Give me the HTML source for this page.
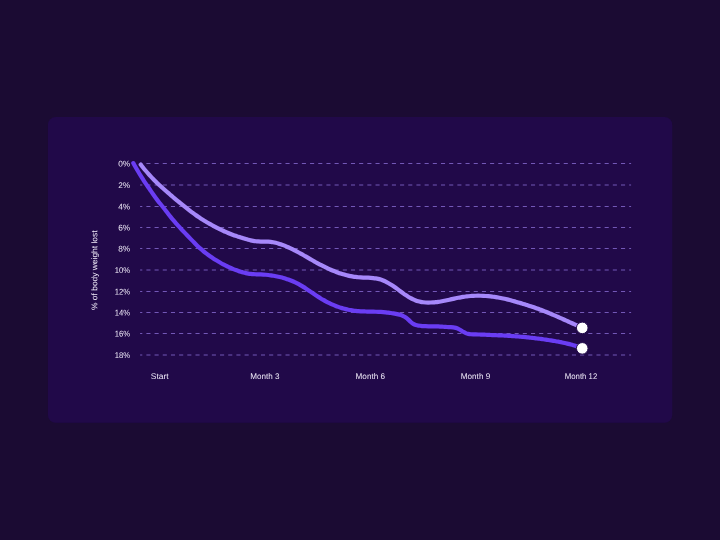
<!DOCTYPE html>
<html lang="en"><head><meta charset="utf-8"><title>Chart</title>
<style>
html,body{margin:0;padding:0;background:#1b0b33;}
body{width:720px;height:540px;overflow:hidden;position:relative;font-family:"Liberation Sans",sans-serif;}
svg{position:absolute;left:0;top:0;will-change:transform;}
text{font-family:"Liberation Sans",sans-serif;font-size:8.2px;fill:#f1ecfa;text-rendering:geometricPrecision;}
</style></head><body>
<svg width="720" height="540" viewBox="0 0 720 540">
<rect x="47.9" y="116.9" width="624.35" height="305.85" rx="7.8" ry="7.8" fill="#210949"/>
<g stroke="#866bd0" stroke-width="0.82" stroke-dasharray="4.09 4.093" stroke-dashoffset="1.89" fill="none">
<line x1="140.1" y1="163.50" x2="631.1" y2="163.50"/>
<line x1="140.1" y1="185.00" x2="631.1" y2="185.00"/>
<line x1="140.1" y1="206.50" x2="631.1" y2="206.50"/>
<line x1="140.1" y1="227.50" x2="631.1" y2="227.50"/>
<line x1="140.1" y1="248.50" x2="631.1" y2="248.50"/>
<line x1="140.1" y1="270.00" x2="631.1" y2="270.00"/>
<line x1="140.1" y1="291.50" x2="631.1" y2="291.50"/>
<line x1="140.1" y1="312.50" x2="631.1" y2="312.50"/>
<line x1="140.1" y1="333.50" x2="631.1" y2="333.50"/>
<line x1="140.1" y1="355.00" x2="631.1" y2="355.00"/>
</g>
<g>
<text x="130.2" y="166.60" text-anchor="end" textLength="12.0" lengthAdjust="spacingAndGlyphs" transform="rotate(0.03 130.2 166.60)">0%</text>
<text x="130.2" y="188.10" text-anchor="end" textLength="12.0" lengthAdjust="spacingAndGlyphs" transform="rotate(0.03 130.2 188.10)">2%</text>
<text x="130.2" y="209.60" text-anchor="end" textLength="12.0" lengthAdjust="spacingAndGlyphs" transform="rotate(0.03 130.2 209.60)">4%</text>
<text x="130.2" y="230.60" text-anchor="end" textLength="12.0" lengthAdjust="spacingAndGlyphs" transform="rotate(0.03 130.2 230.60)">6%</text>
<text x="130.2" y="251.60" text-anchor="end" textLength="12.0" lengthAdjust="spacingAndGlyphs" transform="rotate(0.03 130.2 251.60)">8%</text>
<text x="130.2" y="273.10" text-anchor="end" textLength="15.4" lengthAdjust="spacingAndGlyphs" transform="rotate(0.03 130.2 273.10)">10%</text>
<text x="130.2" y="294.60" text-anchor="end" textLength="15.4" lengthAdjust="spacingAndGlyphs" transform="rotate(0.03 130.2 294.60)">12%</text>
<text x="130.2" y="315.60" text-anchor="end" textLength="15.4" lengthAdjust="spacingAndGlyphs" transform="rotate(0.03 130.2 315.60)">14%</text>
<text x="130.2" y="336.60" text-anchor="end" textLength="15.4" lengthAdjust="spacingAndGlyphs" transform="rotate(0.03 130.2 336.60)">16%</text>
<text x="130.2" y="358.10" text-anchor="end" textLength="15.4" lengthAdjust="spacingAndGlyphs" transform="rotate(0.03 130.2 358.10)">18%</text>
</g>
<g>
<text x="159.7" y="378.9" text-anchor="middle" textLength="17.8" lengthAdjust="spacingAndGlyphs" transform="rotate(0.03 159.7 378.9)">Start</text>
<text x="264.8" y="378.9" text-anchor="middle" textLength="29.3" lengthAdjust="spacingAndGlyphs" transform="rotate(0.03 264.8 378.9)">Month 3</text>
<text x="370.3" y="378.9" text-anchor="middle" textLength="29.4" lengthAdjust="spacingAndGlyphs" transform="rotate(0.03 370.3 378.9)">Month 6</text>
<text x="475.5" y="378.9" text-anchor="middle" textLength="29.4" lengthAdjust="spacingAndGlyphs" transform="rotate(0.03 475.5 378.9)">Month 9</text>
<text x="581.0" y="378.9" text-anchor="middle" textLength="32.5" lengthAdjust="spacingAndGlyphs" transform="rotate(0.03 581.0 378.9)">Month 12</text>
</g>
<text transform="translate(97.3 310) rotate(-89.97)" textLength="79.6" lengthAdjust="spacingAndGlyphs">% of body weight lost</text>
<path d="M140.70 164.59C141.53 165.67 142.37 166.72 143.20 167.75C144.03 168.78 144.87 169.78 145.70 170.75C146.53 171.73 147.37 172.68 148.20 173.61C149.03 174.54 149.87 175.46 150.70 176.35C151.53 177.24 152.37 178.11 153.20 178.96C154.03 179.82 154.87 180.66 155.70 181.48C156.53 182.30 157.37 183.11 158.20 183.90C159.03 184.69 159.87 185.47 160.70 186.24C161.53 187.01 162.37 187.77 163.20 188.52C164.03 189.27 164.87 190.01 165.70 190.75C166.53 191.48 167.37 192.21 168.20 192.93C169.03 193.66 169.87 194.37 170.70 195.09C171.53 195.80 172.37 196.52 173.20 197.23C174.03 197.93 174.87 198.64 175.70 199.33C176.53 200.02 177.37 200.71 178.20 201.39C179.03 202.07 179.87 202.74 180.70 203.40C181.53 204.07 182.37 204.73 183.20 205.40C184.03 206.06 184.87 206.72 185.70 207.38C186.53 208.04 187.37 208.69 188.20 209.35C189.03 210.00 189.87 210.65 190.70 211.29C191.53 211.93 192.37 212.57 193.20 213.19C194.03 213.81 194.87 214.43 195.70 215.03C196.53 215.63 197.37 216.22 198.20 216.79C199.03 217.36 199.87 217.92 200.70 218.46C201.53 219.00 202.37 219.53 203.20 220.04C204.03 220.56 204.87 221.06 205.70 221.55C206.53 222.05 207.37 222.53 208.20 223.00C209.03 223.47 209.87 223.94 210.70 224.40C211.53 224.85 212.37 225.31 213.20 225.75C214.03 226.19 214.87 226.63 215.70 227.06C216.53 227.49 217.37 227.92 218.20 228.33C219.03 228.75 219.87 229.17 220.70 229.57C221.53 229.98 222.37 230.38 223.20 230.77C224.03 231.16 224.87 231.55 225.70 231.92C226.53 232.30 227.37 232.66 228.20 233.01C229.03 233.36 229.87 233.70 230.70 234.03C231.53 234.35 232.37 234.66 233.20 234.96C234.03 235.27 234.87 235.56 235.70 235.84C236.53 236.13 237.37 236.40 238.20 236.68C239.03 236.95 239.87 237.22 240.70 237.49C241.53 237.76 242.37 238.02 243.20 238.28C244.03 238.54 244.87 238.79 245.70 239.04C246.53 239.28 247.37 239.51 248.20 239.73C249.03 239.95 249.87 240.16 250.70 240.34C251.53 240.53 252.37 240.70 253.20 240.85C254.03 241.00 254.87 241.13 255.70 241.22C256.53 241.32 257.37 241.40 258.20 241.45C259.03 241.50 259.87 241.53 260.70 241.55C261.53 241.56 262.37 241.56 263.20 241.57C264.03 241.57 264.87 241.56 265.70 241.57C266.53 241.58 267.37 241.60 268.20 241.64C269.03 241.68 269.87 241.74 270.70 241.84C271.53 241.93 272.37 242.06 273.20 242.21C274.03 242.36 274.87 242.54 275.70 242.74C276.53 242.95 277.37 243.17 278.20 243.42C279.03 243.67 279.87 243.94 280.70 244.23C281.53 244.52 282.37 244.83 283.20 245.15C284.03 245.48 284.87 245.82 285.70 246.17C286.53 246.53 287.37 246.89 288.20 247.27C289.03 247.65 289.87 248.04 290.70 248.44C291.53 248.84 292.37 249.24 293.20 249.66C294.03 250.07 294.87 250.49 295.70 250.92C296.53 251.35 297.37 251.79 298.20 252.24C299.03 252.68 299.87 253.13 300.70 253.59C301.53 254.05 302.37 254.52 303.20 254.99C304.03 255.46 304.87 255.93 305.70 256.42C306.53 256.90 307.37 257.39 308.20 257.87C309.03 258.36 309.87 258.85 310.70 259.34C311.53 259.83 312.37 260.31 313.20 260.79C314.03 261.27 314.87 261.75 315.70 262.22C316.53 262.69 317.37 263.15 318.20 263.60C319.03 264.05 319.87 264.50 320.70 264.93C321.53 265.37 322.37 265.80 323.20 266.22C324.03 266.64 324.87 267.05 325.70 267.45C326.53 267.85 327.37 268.24 328.20 268.62C329.03 269.00 329.87 269.37 330.70 269.73C331.53 270.09 332.37 270.44 333.20 270.78C334.03 271.12 334.87 271.44 335.70 271.76C336.53 272.08 337.37 272.38 338.20 272.67C339.03 272.97 339.87 273.25 340.70 273.52C341.53 273.78 342.37 274.04 343.20 274.28C344.03 274.53 344.87 274.76 345.70 274.98C346.53 275.20 347.37 275.40 348.20 275.59C349.03 275.79 349.87 275.96 350.70 276.13C351.53 276.29 352.37 276.45 353.20 276.58C354.03 276.72 354.87 276.84 355.70 276.95C356.53 277.06 357.37 277.16 358.20 277.24C359.03 277.32 359.87 277.38 360.70 277.43C361.53 277.48 362.37 277.52 363.20 277.55C364.03 277.58 364.87 277.61 365.70 277.64C366.53 277.66 367.37 277.69 368.20 277.72C369.03 277.75 369.87 277.79 370.70 277.85C371.53 277.90 372.37 277.97 373.20 278.06C374.03 278.15 374.87 278.25 375.70 278.39C376.53 278.53 377.37 278.69 378.20 278.89C379.03 279.08 379.87 279.32 380.70 279.59C381.53 279.86 382.37 280.17 383.20 280.51C384.03 280.85 384.87 281.23 385.70 281.64C386.53 282.05 387.37 282.49 388.20 282.96C389.03 283.42 389.87 283.92 390.70 284.44C391.53 284.96 392.37 285.50 393.20 286.06C394.03 286.63 394.87 287.21 395.70 287.81C396.53 288.41 397.37 289.03 398.20 289.65C399.03 290.27 399.87 290.90 400.70 291.52C401.53 292.14 402.37 292.76 403.20 293.35C404.03 293.95 404.87 294.54 405.70 295.09C406.53 295.65 407.37 296.18 408.20 296.68C409.03 297.19 409.87 297.67 410.70 298.11C411.53 298.56 412.37 298.98 413.20 299.37C414.03 299.75 414.87 300.10 415.70 300.42C416.53 300.74 417.37 301.02 418.20 301.27C419.03 301.51 419.87 301.72 420.70 301.89C421.53 302.06 422.37 302.19 423.20 302.29C424.03 302.39 424.87 302.45 425.70 302.50C426.53 302.54 427.37 302.56 428.20 302.56C429.03 302.55 429.87 302.54 430.70 302.50C431.53 302.47 432.37 302.42 433.20 302.37C434.03 302.31 434.87 302.23 435.70 302.15C436.53 302.06 437.37 301.96 438.20 301.85C439.03 301.74 439.87 301.62 440.70 301.49C441.53 301.36 442.37 301.21 443.20 301.05C444.03 300.90 444.87 300.73 445.70 300.55C446.53 300.38 447.37 300.19 448.20 300.00C449.03 299.81 449.87 299.61 450.70 299.42C451.53 299.22 452.37 299.03 453.20 298.84C454.03 298.65 454.87 298.46 455.70 298.28C456.53 298.10 457.37 297.93 458.20 297.77C459.03 297.61 459.87 297.45 460.70 297.31C461.53 297.16 462.37 297.03 463.20 296.90C464.03 296.77 464.87 296.65 465.70 296.54C466.53 296.44 467.37 296.34 468.20 296.25C469.03 296.16 469.87 296.08 470.70 296.01C471.53 295.95 472.37 295.89 473.20 295.84C474.03 295.80 474.87 295.76 475.70 295.74C476.53 295.71 477.37 295.70 478.20 295.70C479.03 295.70 479.87 295.71 480.70 295.73C481.53 295.75 482.37 295.78 483.20 295.83C484.03 295.87 484.87 295.92 485.70 295.98C486.53 296.04 487.37 296.11 488.20 296.19C489.03 296.26 489.87 296.35 490.70 296.44C491.53 296.54 492.37 296.64 493.20 296.75C494.03 296.86 494.87 296.98 495.70 297.10C496.53 297.23 497.37 297.36 498.20 297.51C499.03 297.65 499.87 297.81 500.70 297.97C501.53 298.13 502.37 298.31 503.20 298.49C504.03 298.67 504.87 298.86 505.70 299.05C506.53 299.25 507.37 299.45 508.20 299.66C509.03 299.87 509.87 300.09 510.70 300.31C511.53 300.53 512.37 300.75 513.20 300.98C514.03 301.21 514.87 301.45 515.70 301.69C516.53 301.92 517.37 302.17 518.20 302.41C519.03 302.65 519.87 302.90 520.70 303.14C521.53 303.39 522.37 303.64 523.20 303.89C524.03 304.14 524.87 304.39 525.70 304.65C526.53 304.91 527.37 305.17 528.20 305.43C529.03 305.69 529.87 305.96 530.70 306.24C531.53 306.51 532.37 306.79 533.20 307.07C534.03 307.35 534.87 307.64 535.70 307.94C536.53 308.23 537.37 308.53 538.20 308.84C539.03 309.15 539.87 309.46 540.70 309.78C541.53 310.09 542.37 310.41 543.20 310.74C544.03 311.07 544.87 311.40 545.70 311.74C546.53 312.07 547.37 312.41 548.20 312.76C549.03 313.10 549.87 313.45 550.70 313.80C551.53 314.15 552.37 314.50 553.20 314.86C554.03 315.22 554.87 315.58 555.70 315.94C556.53 316.30 557.37 316.66 558.20 317.03C559.03 317.40 559.87 317.77 560.70 318.14C561.53 318.51 562.37 318.88 563.20 319.25C564.03 319.62 564.87 319.99 565.70 320.37C566.53 320.74 567.37 321.12 568.20 321.49C569.03 321.86 569.87 322.24 570.70 322.61C571.53 322.99 572.37 323.36 573.20 323.73C574.03 324.11 574.87 324.48 575.70 324.85C576.53 325.22 577.37 325.59 578.20 325.96C579.03 326.33 579.87 326.69 580.70 327.06C581.22 327.28 581.73 327.51 582.25 327.73" fill="none" stroke="#a688fa" stroke-width="4.2" stroke-linecap="round" stroke-linejoin="round"/>
<path d="M133.30 163.09C134.13 164.61 134.97 166.08 135.80 167.53C136.63 168.97 137.47 170.39 138.30 171.77C139.13 173.15 139.97 174.51 140.80 175.84C141.63 177.18 142.47 178.48 143.30 179.77C144.13 181.06 144.97 182.33 145.80 183.58C146.63 184.83 147.47 186.07 148.30 187.29C149.13 188.52 149.97 189.73 150.80 190.93C151.63 192.14 152.47 193.33 153.30 194.52C154.13 195.72 154.97 196.91 155.80 198.06C156.63 199.22 157.47 200.32 158.30 201.36C159.13 202.40 159.97 203.40 160.80 204.41C161.63 205.41 162.47 206.42 163.30 207.48C164.13 208.53 164.97 209.61 165.80 210.70C166.63 211.79 167.47 212.89 168.30 213.98C169.13 215.07 169.97 216.14 170.80 217.18C171.63 218.22 172.47 219.23 173.30 220.21C174.13 221.20 174.97 222.16 175.80 223.10C176.63 224.04 177.47 224.97 178.30 225.88C179.13 226.80 179.97 227.70 180.80 228.60C181.63 229.50 182.47 230.38 183.30 231.27C184.13 232.15 184.97 233.03 185.80 233.90C186.63 234.77 187.47 235.64 188.30 236.50C189.13 237.37 189.97 238.23 190.80 239.09C191.63 239.95 192.47 240.80 193.30 241.66C194.13 242.51 194.97 243.36 195.80 244.19C196.63 245.02 197.47 245.84 198.30 246.64C199.13 247.43 199.97 248.20 200.80 248.94C201.63 249.68 202.47 250.39 203.30 251.07C204.13 251.76 204.97 252.42 205.80 253.07C206.63 253.71 207.47 254.33 208.30 254.94C209.13 255.54 209.97 256.13 210.80 256.71C211.63 257.29 212.47 257.86 213.30 258.41C214.13 258.96 214.97 259.50 215.80 260.03C216.63 260.55 217.47 261.07 218.30 261.57C219.13 262.06 219.97 262.55 220.80 263.02C221.63 263.50 222.47 263.96 223.30 264.40C224.13 264.85 224.97 265.28 225.80 265.70C226.63 266.12 227.47 266.53 228.30 266.92C229.13 267.31 229.97 267.69 230.80 268.05C231.63 268.42 232.47 268.77 233.30 269.11C234.13 269.44 234.97 269.77 235.80 270.08C236.63 270.39 237.47 270.68 238.30 270.97C239.13 271.25 239.97 271.52 240.80 271.77C241.63 272.02 242.47 272.26 243.30 272.48C244.13 272.70 244.97 272.90 245.80 273.08C246.63 273.26 247.47 273.42 248.30 273.56C249.13 273.70 249.97 273.81 250.80 273.91C251.63 274.00 252.47 274.08 253.30 274.14C254.13 274.20 254.97 274.24 255.80 274.28C256.63 274.32 257.47 274.35 258.30 274.38C259.13 274.41 259.97 274.44 260.80 274.47C261.63 274.50 262.47 274.54 263.30 274.59C264.13 274.63 264.97 274.69 265.80 274.76C266.63 274.83 267.47 274.92 268.30 275.02C269.13 275.12 269.97 275.23 270.80 275.35C271.63 275.48 272.47 275.61 273.30 275.75C274.13 275.90 274.97 276.05 275.80 276.22C276.63 276.38 277.47 276.55 278.30 276.74C279.13 276.92 279.97 277.11 280.80 277.32C281.63 277.53 282.47 277.75 283.30 277.98C284.13 278.21 284.97 278.46 285.80 278.72C286.63 278.98 287.47 279.26 288.30 279.55C289.13 279.84 289.97 280.15 290.80 280.48C291.63 280.81 292.47 281.15 293.30 281.51C294.13 281.88 294.97 282.26 295.80 282.66C296.63 283.07 297.47 283.49 298.30 283.94C299.13 284.38 299.97 284.85 300.80 285.34C301.63 285.83 302.47 286.34 303.30 286.87C304.13 287.39 304.97 287.93 305.80 288.49C306.63 289.04 307.47 289.60 308.30 290.17C309.13 290.74 309.97 291.31 310.80 291.88C311.63 292.45 312.47 293.03 313.30 293.59C314.13 294.16 314.97 294.72 315.80 295.27C316.63 295.82 317.47 296.36 318.30 296.89C319.13 297.42 319.97 297.94 320.80 298.44C321.63 298.95 322.47 299.44 323.30 299.92C324.13 300.40 324.97 300.86 325.80 301.31C326.63 301.76 327.47 302.20 328.30 302.61C329.13 303.03 329.97 303.43 330.80 303.82C331.63 304.21 332.47 304.58 333.30 304.94C334.13 305.30 334.97 305.64 335.80 305.97C336.63 306.29 337.47 306.60 338.30 306.90C339.13 307.20 339.97 307.48 340.80 307.74C341.63 308.01 342.47 308.26 343.30 308.49C344.13 308.73 344.97 308.95 345.80 309.15C346.63 309.35 347.47 309.54 348.30 309.72C349.13 309.89 349.97 310.05 350.80 310.19C351.63 310.33 352.47 310.46 353.30 310.57C354.13 310.69 354.97 310.79 355.80 310.88C356.63 310.97 357.47 311.05 358.30 311.11C359.13 311.18 359.97 311.24 360.80 311.29C361.63 311.34 362.47 311.39 363.30 311.42C364.13 311.46 364.97 311.49 365.80 311.52C366.63 311.55 367.47 311.57 368.30 311.59C369.13 311.61 369.97 311.62 370.80 311.64C371.63 311.66 372.47 311.67 373.30 311.69C374.13 311.70 374.97 311.72 375.80 311.75C376.63 311.77 377.47 311.79 378.30 311.83C379.13 311.86 379.97 311.90 380.80 311.95C381.63 312.00 382.47 312.05 383.30 312.12C384.13 312.19 384.97 312.27 385.80 312.36C386.63 312.45 387.47 312.55 388.30 312.67C389.13 312.78 389.97 312.90 390.80 313.03C391.63 313.16 392.47 313.30 393.30 313.44C394.13 313.58 394.97 313.72 395.80 313.87C396.63 314.01 397.47 314.17 398.30 314.36C399.13 314.55 399.97 314.77 400.80 315.05C401.63 315.33 402.47 315.66 403.30 316.07C404.13 316.48 404.97 316.97 405.80 317.56C406.63 318.15 407.47 318.86 408.30 319.62C409.13 320.39 409.97 321.19 410.80 321.94C411.63 322.69 412.47 323.37 413.30 323.89C414.13 324.42 414.97 324.77 415.80 325.03C416.63 325.29 417.47 325.44 418.30 325.55C419.13 325.66 419.97 325.73 420.80 325.81C421.63 325.90 422.47 325.98 423.30 326.04C424.13 326.11 424.97 326.17 425.80 326.20C426.63 326.24 427.47 326.27 428.30 326.28C429.13 326.30 429.97 326.30 430.80 326.31C431.63 326.31 432.47 326.31 433.30 326.32C434.13 326.33 434.97 326.34 435.80 326.37C436.63 326.39 437.47 326.42 438.30 326.46C439.13 326.49 439.97 326.54 440.80 326.58C441.63 326.63 442.47 326.68 443.30 326.74C444.13 326.79 444.97 326.85 445.80 326.90C446.63 326.96 447.47 327.01 448.30 327.06C449.13 327.12 449.97 327.16 450.80 327.21C451.63 327.26 452.47 327.32 453.30 327.42C454.13 327.51 454.97 327.66 455.80 327.88C456.63 328.10 457.47 328.41 458.30 328.81C459.13 329.20 459.97 329.68 460.80 330.21C461.63 330.74 462.47 331.30 463.30 331.80C464.13 332.30 464.97 332.73 465.80 333.08C466.63 333.43 467.47 333.69 468.30 333.88C469.13 334.06 469.97 334.18 470.80 334.25C471.63 334.33 472.47 334.36 473.30 334.38C474.13 334.39 474.97 334.40 475.80 334.42C476.63 334.43 477.47 334.45 478.30 334.48C479.13 334.50 479.97 334.53 480.80 334.56C481.63 334.59 482.47 334.62 483.30 334.66C484.13 334.69 484.97 334.73 485.80 334.77C486.63 334.81 487.47 334.84 488.30 334.88C489.13 334.92 489.97 334.95 490.80 334.99C491.63 335.02 492.47 335.06 493.30 335.09C494.13 335.12 494.97 335.15 495.80 335.19C496.63 335.22 497.47 335.25 498.30 335.29C499.13 335.32 499.97 335.36 500.80 335.40C501.63 335.44 502.47 335.48 503.30 335.52C504.13 335.56 504.97 335.61 505.80 335.65C506.63 335.70 507.47 335.75 508.30 335.80C509.13 335.85 509.97 335.91 510.80 335.96C511.63 336.02 512.47 336.07 513.30 336.13C514.13 336.19 514.97 336.25 515.80 336.32C516.63 336.38 517.47 336.45 518.30 336.52C519.13 336.59 519.97 336.66 520.80 336.73C521.63 336.80 522.47 336.88 523.30 336.96C524.13 337.03 524.97 337.11 525.80 337.20C526.63 337.28 527.47 337.36 528.30 337.45C529.13 337.54 529.97 337.63 530.80 337.72C531.63 337.81 532.47 337.90 533.30 338.00C534.13 338.10 534.97 338.20 535.80 338.30C536.63 338.40 537.47 338.50 538.30 338.61C539.13 338.72 539.97 338.83 540.80 338.94C541.63 339.05 542.47 339.16 543.30 339.28C544.13 339.40 544.97 339.52 545.80 339.64C546.63 339.76 547.47 339.89 548.30 340.01C549.13 340.14 549.97 340.27 550.80 340.40C551.63 340.53 552.47 340.67 553.30 340.81C554.13 340.95 554.97 341.09 555.80 341.24C556.63 341.38 557.47 341.54 558.30 341.69C559.13 341.85 559.97 342.01 560.80 342.18C561.63 342.35 562.47 342.52 563.30 342.70C564.13 342.88 564.97 343.07 565.80 343.26C566.63 343.46 567.47 343.66 568.30 343.87C569.13 344.08 569.97 344.30 570.80 344.53C571.63 344.75 572.47 344.99 573.30 345.24C574.13 345.48 574.97 345.74 575.80 346.01C576.63 346.27 577.47 346.55 578.30 346.84C579.13 347.13 579.97 347.43 580.80 347.74C581.28 347.92 581.77 348.10 582.25 348.29" fill="none" stroke="#6a3df3" stroke-width="4.2" stroke-linecap="round" stroke-linejoin="round"/>
<circle cx="582.25" cy="327.9" r="5.8" fill="#ffffff" stroke="#210949" stroke-width="1"/>
<circle cx="582.25" cy="348.35" r="5.8" fill="#ffffff" stroke="#210949" stroke-width="1"/>
</svg>
</body></html>
